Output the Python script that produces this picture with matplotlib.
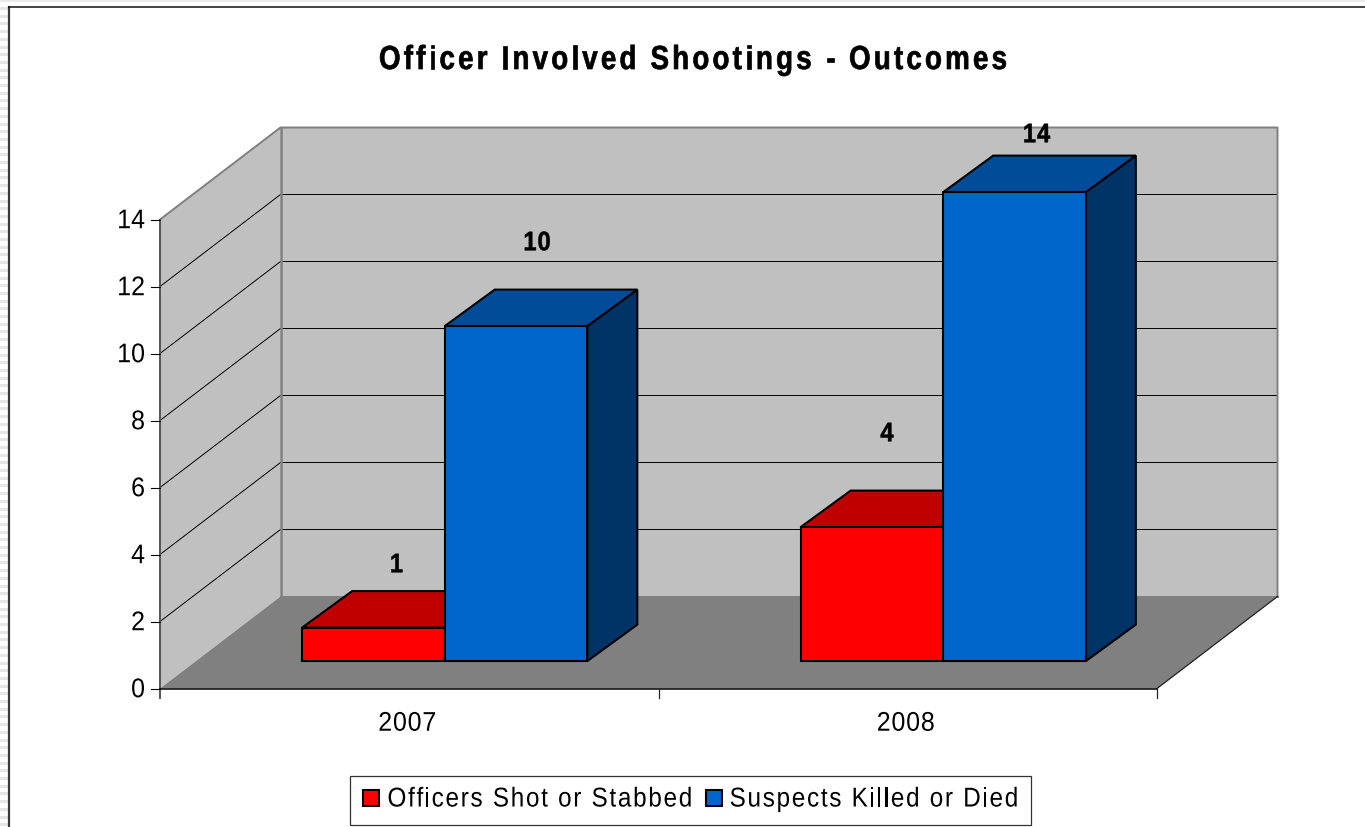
import matplotlib
matplotlib.use("Agg")
import matplotlib.pyplot as plt
from matplotlib.patches import Polygon, Patch, Rectangle
from matplotlib.text import Text
from matplotlib.textpath import TextPath
from matplotlib.transforms import Affine2D, Bbox
from matplotlib.colors import to_rgba

# ---- data ----
categories = ["2007", "2008"]
officers = [1, 4]
suspects = [10, 14]
series_names = ["Officers Shot or Stabbed", "Suspects Killed or Died"]
y_ticks = [0, 2, 4, 6, 8, 10, 12, 14]
title_text = "Officer Involved Shootings - Outcomes"

# ---- layout (reference pixels) ----
W, H = 1365, 828
X0, X1, Y0, Y14 = 160.0, 1157.0, 689.5, 220.5
PX_CAT = (X1 - X0) / len(categories)
PX_VAL = (Y0 - Y14) / y_ticks[-1]
WALL = (120.5, 92.0)           # depth of the box, px right / px up
BAR_FRONT = (35.5, 27.4)
BAR_BACK = (85.5, 63.9)
BAR_W = 0.286                  # in category units
RED, RED_TOP = "#FF0000", "#C00000"
BLUE, BLUE_TOP, BLUE_SIDE = "#0066CC", "#004C99", "#003366"
WALL_C, FLOOR_C = "#C0C0C0", "#808080"
FONT = "Liberation Sans"


class TrackedText(Text):
    """One text object drawn with letter spacing and a vertical stretch."""
    tracking = 0.0
    yscale = 1.0
    stroke = 0.0

    def _get_layout(self, renderer):
        bbox, info, d = super()._get_layout(renderer)
        extra = self.tracking * (len(self.get_text()) - 1)
        return Bbox.from_bounds(bbox.x0, bbox.y0, bbox.width + extra, bbox.height), info, d

    def draw(self, renderer):
        if not self.get_visible():
            return
        s = self.get_text()
        prop = self.get_fontproperties()
        k = renderer.points_to_pixels(1.0)
        size_px = prop.get_size_in_points() * k
        adv = lambda t: TextPath((0, 0), t + "|", prop=prop).get_extents().x1 if t else 0.0
        base = TextPath((0, 0), "|", prop=prop).get_extents().x1
        width = lambda t: (adv(t) - base) * k if t else 0.0
        total = width(s) + self.tracking * (len(s) - 1)
        x, y = self.get_transform().transform(self.get_position())
        ha = self.get_ha()
        start = x - total / 2 if ha == "center" else x - total if ha == "right" else x
        if self.get_va() in ("center", "center_baseline"):
            y -= 0.72 * size_px * self.yscale / 2
        gc = renderer.new_gc()
        gc.set_linewidth(self.stroke)
        rgba = to_rgba(self.get_color())
        gc.set_foreground(rgba)
        for i, ch in enumerate(s):
            if ch == " ":
                continue
            path = TextPath((0, 0), ch, prop=prop)
            tr = Affine2D().scale(k, k * self.yscale).translate(start + width(s[:i]) + i * self.tracking, y)
            renderer.draw_path(gc, path, tr, rgba)
        gc.restore()


def tracked(ax, x, y, s, tracking, yscale, stroke=0.0, **kw):
    t = TrackedText(x, y, s, family=FONT, transform=ax.transData, **kw)
    t.tracking = tracking
    t.yscale = yscale
    t.stroke = stroke
    ax.add_artist(t)
    return t


fig = plt.figure(figsize=(W / 100, H / 100), dpi=100, facecolor="white")
ax = fig.add_axes([0, 0, 1, 1])
ax.set_xlim(-X0 / PX_CAT, (W - X0) / PX_CAT)
ax.set_ylim(-(H - Y0) / PX_VAL, Y0 / PX_VAL)
ax.axis("off")


def P(cat, val, depth=(0, 0)):
    """Project category/value + screen depth offset to data coords."""
    return (cat + depth[0] / PX_CAT, val + depth[1] / PX_VAL)


def ypx(p):
    return (Y0 - p) / PX_VAL


def xpx(p):
    return (p - X0) / PX_CAT


# page edge: striped margin and dark frame
for k in range(0, 108):
    ax.add_patch(Rectangle((xpx(0), ypx(k * 7.7 + 11)), 8 / PX_CAT, 3 / PX_VAL, fc="#E6E6E6", ec="none", zorder=0))
ax.add_patch(Rectangle((xpx(0), ypx(3)), W / PX_CAT, 2.5 / PX_VAL, fc="#EAEAEA", ec="none", zorder=0))
ax.plot([xpx(9), xpx(9)], [ypx(H), ypx(7)], color="#3A3A3A", lw=1.6, zorder=1, solid_capstyle="butt")
ax.plot([xpx(8), xpx(W)], [ypx(7.5), ypx(7.5)], color="#111111", lw=1.1, zorder=1, solid_capstyle="butt")

n = len(categories)
top = y_ticks[-1]

# walls and floor
ax.add_patch(Polygon([P(0, 0), P(0, 0, WALL), P(0, top, WALL), P(0, top)], fc=WALL_C, ec="none", zorder=2))
ax.add_patch(Polygon([P(0, 0, WALL), P(n, 0, WALL), P(n, top, WALL), P(0, top, WALL)], fc=WALL_C, ec="none", zorder=2))
ax.add_patch(Polygon([P(0, 0), P(n, 0), P(n, 0, WALL), P(0, 0, WALL)], fc=FLOOR_C, ec="none", zorder=2))

# gridlines
for v in y_ticks[1:-1]:
    ax.plot(*zip(P(0, v), P(0, v, WALL), P(n, v, WALL)), color="black", lw=0.7, zorder=3)
ax.plot(*zip(P(0, top), P(0, top, WALL), P(n, top, WALL), P(n, 0, WALL)), color=FLOOR_C, lw=1.4, zorder=3)
ax.plot(*zip(P(0, 0, WALL), P(0, top, WALL)), color=FLOOR_C, lw=1.8, zorder=3)
ax.plot(*zip(P(0, 0, WALL), P(n, 0, WALL)), color=FLOOR_C, lw=1.4, zorder=3)
ax.plot(*zip(P(n, 0), P(n, 0, WALL)), color="#202020", lw=0.9, zorder=3)

# axes and ticks
TICK = 9 / PX_VAL
ax.plot([0, 0], [-TICK, top], color="#555555", lw=1.4, zorder=4)
ax.plot([0, n], [0, 0], color="black", lw=1.1, zorder=4)
for v in y_ticks:
    ax.plot([-9 / PX_CAT, 0], [v, v], color="black", lw=0.8, zorder=4)
    tracked(ax, -15 / PX_CAT, v + 1 / PX_VAL, str(v), 0.0, 1.08, ha="right", va="center", fontsize=18, color="black", zorder=5)
for c in range(1, n + 1):
    ax.plot([c, c], [-TICK, 0], color="#222222", lw=0.9, zorder=4)
for c, name in enumerate(categories):
    tracked(ax, c + 0.5 - 2 / PX_CAT, ypx(722), name, 0.8, 1.08, ha="center", va="center", fontsize=18, color="black", zorder=5)


def bar(left, val, front, topc, side, z):
    right = left + BAR_W
    kw = dict(ec="black", lw=1.5, joinstyle="miter", zorder=z)
    ax.add_patch(Polygon([P(right, 0, BAR_FRONT), P(right, 0, BAR_BACK), P(right, val, BAR_BACK), P(right, val, BAR_FRONT)], fc=side, **kw))
    ax.add_patch(Polygon([P(left, val, BAR_FRONT), P(right, val, BAR_FRONT), P(right, val, BAR_BACK), P(left, val, BAR_BACK)], fc=topc, **kw))
    ax.add_patch(Polygon([P(left, 0, BAR_FRONT), P(right, 0, BAR_FRONT), P(right, val, BAR_FRONT), P(left, val, BAR_FRONT)], fc=front, **kw))


GAP = (1 - 2 * BAR_W) / 2
for i in range(n):
    bar(i + GAP, officers[i], RED, RED_TOP, RED_TOP, 6)
    bar(i + GAP + BAR_W, suspects[i], BLUE, BLUE_TOP, BLUE_SIDE, 7)

# data labels (px offset from the front top of each bar, as placed in the reference)
off_off = ((23, 65), (15, 95.5))
sus_off = ((21, 85.5), (22, 59.5))
for i in range(n):
    for left, val, (dx, lift) in ((i + GAP, officers[i], off_off[i]), (i + GAP + BAR_W, suspects[i], sus_off[i])):
        lx, ly = P(left + BAR_W / 2, val, (BAR_FRONT[0] + dx, BAR_FRONT[1] + lift))
        tracked(ax, lx, ly, str(val), 1.0, 1.13, stroke=0.4, ha="center", va="center", fontsize=17, fontweight="bold", color="black", zorder=9)

# title
tracked(ax, xpx(693), ypx(58), title_text, 3.17, 1.2, stroke=0.5, ha="center", va="center", fontsize=20, fontweight="bold", color="black", zorder=9)

# legend
handles = [Patch(fc=RED, ec="black", lw=1.5), Patch(fc=BLUE, ec="black", lw=1.5)]
leg = ax.legend(handles, series_names, ncol=2, loc="center", bbox_to_anchor=(690.5 / W, 1 - 801.5 / H),
                bbox_transform=fig.transFigure, prop=dict(family=FONT, size=17.5),
                frameon=True, fancybox=False, edgecolor="#333333", facecolor="white", framealpha=1,
                handlelength=0.66, handleheight=0.62, handletextpad=0.33, columnspacing=0.58,
                borderpad=0.56, borderaxespad=0)
leg.set_zorder(10)
leg.get_frame().set_linewidth(0.9)
for t in leg.get_texts():
    t.__class__ = TrackedText
    t.tracking = 1.7
    t.yscale = 1.12

fig.savefig("out.png", dpi=100, facecolor="white")
